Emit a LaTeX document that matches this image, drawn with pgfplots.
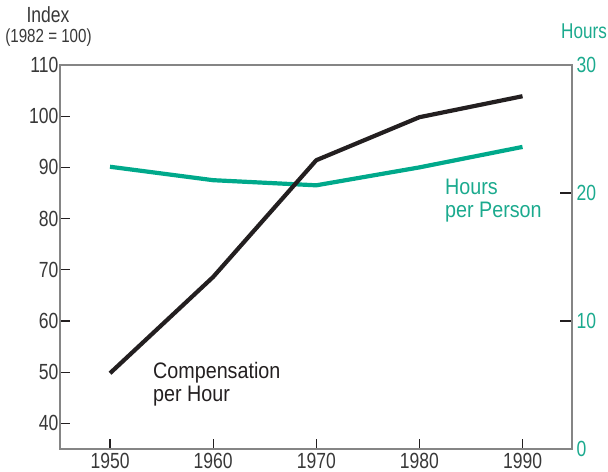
\documentclass[border=0pt]{standalone}
\usepackage{pgfplots}
\pgfplotsset{compat=1.18}
\usepackage{fontspec}
\setmainfont{Liberation Sans}[FakeStretch=0.88]
\newfontfamily\tickfont{Liberation Sans}[FakeStretch=0.8]
\definecolor{grn}{HTML}{00A98B}
\definecolor{grntxt}{HTML}{1BAA8E}
\definecolor{blk}{HTML}{231F20}
\definecolor{axgray}{HTML}{858585}
\definecolor{txtgray}{HTML}{383838}

\begin{document}
\begin{tikzpicture}[x=1bp,y=1bp]
\path[use as bounding box] (-60,-23) rectangle (548,449);
% Right axis: hours per person
\begin{axis}[
  at={(0,0)}, anchor=south west,
  scale only axis, width=512bp, height=384bp,
  xmin=1945.15, xmax=1994.8, ymin=0, ymax=30,
  axis x line=none, axis y line*=right,
  axis line style={draw=axgray, line width=1.4bp},
  ytick={10,20}, extra y ticks={0,30},
  extra y tick style={major tick length=0pt},
  tick align=inside, major tick length=12bp,
  tick style={draw=blk, line width=1.1bp},
  yticklabel style={font=\tickfont\fontsize{22}{22}\selectfont, text=grntxt, inner sep=0bp, xshift=4.5bp},
  /pgf/number format/assume math mode=true,
]
\addplot[grn, line width=4.2bp, line join=round] coordinates {
  (1950,22.05) (1960,21.0) (1970,20.6) (1980,22.0) (1990,23.6)
};
\end{axis}
% Left axis: compensation index
\begin{axis}[
  at={(0,0)}, anchor=south west,
  scale only axis, width=512bp, height=384bp,
  xmin=1945.15, xmax=1994.8, ymin=35, ymax=110,
  axis line style={draw=axgray, line width=1.4bp},
  xtick={1950,1960,1970,1980,1990},
  xticklabels={1950,1960,1970,1980,1990},
  xtick pos=bottom, ytick pos=left,
  ytick={40,50,60,70,80,90,100}, extra y ticks={110},
  extra y tick style={major tick length=0pt},
  tick align=inside, major tick length=10bp,
  tick style={draw=blk, line width=1.1bp},
  ticklabel style={font=\tickfont\fontsize{22}{22}\selectfont, text=txtgray},
  yticklabel style={inner sep=1.5bp},
  xticklabel style={inner sep=1bp, yshift=-3bp},
  /pgf/number format/assume math mode=true,
]
\addplot[blk, line width=4.2bp, line join=round] coordinates {
  (1950,49.8) (1960,68.6) (1970,91.4) (1980,99.8) (1990,103.9)
};
\end{axis}
% Annotations
\node[anchor=base west, text=blk, font=\fontsize{22.5}{22.5}\selectfont, inner sep=0] at (93,70) {Compensation};
\node[anchor=base west, text=blk, font=\fontsize{22.5}{22.5}\selectfont, inner sep=0] at (93,47) {per Hour};
\node[anchor=base west, text=grntxt, font=\fontsize{22.5}{22.5}\selectfont, inner sep=0] at (385,254) {Hours};
\node[anchor=base west, text=grntxt, font=\fontsize{22.5}{22.5}\selectfont, inner sep=0] at (385,231) {per Person};
% Axis titles
\node[anchor=base, text=txtgray, font=\tickfont\fontsize{22}{22}\selectfont, inner sep=0] at (-12,426) {Index};
\node[anchor=base, text=txtgray, font=\tickfont\fontsize{19}{19}\selectfont, inner sep=0] at (-11.5,406) {(1982 = 100)};
\node[anchor=base west, text=grntxt, font=\tickfont\fontsize{21.5}{21.5}\selectfont, inner sep=0] at (501,410) {Hours};
\end{tikzpicture}
\end{document}
